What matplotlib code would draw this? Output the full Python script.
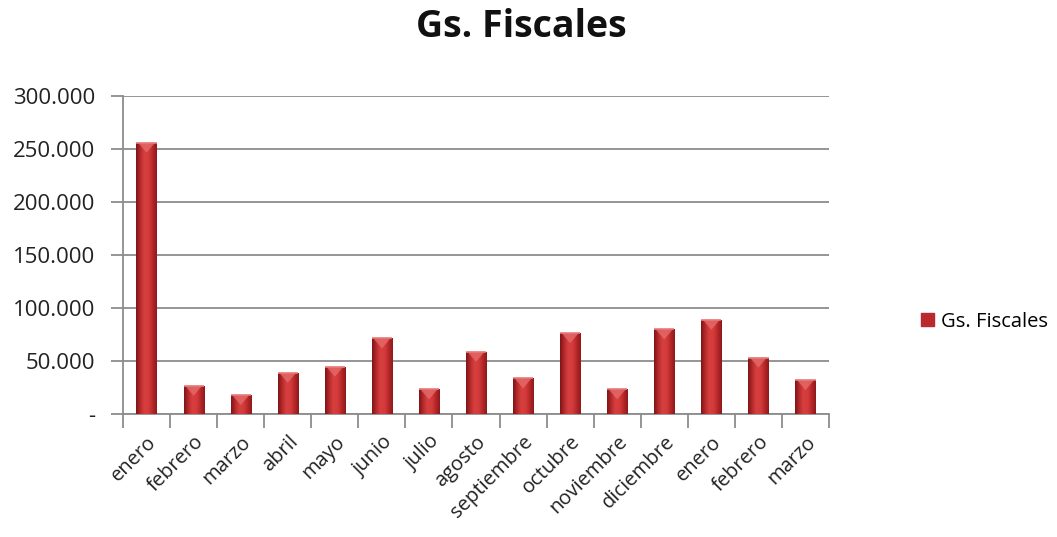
import numpy as np
import matplotlib
matplotlib.use("Agg")
import matplotlib.pyplot as plt
from matplotlib.colors import LinearSegmentedColormap
from matplotlib.patches import Polygon
from matplotlib.ticker import FuncFormatter

months = ["enero", "febrero", "marzo", "abril", "mayo", "junio", "julio",
          "agosto", "septiembre", "octubre", "noviembre", "diciembre",
          "enero", "febrero", "marzo"]
gastos_fiscales = [256000, 26700, 17900, 38900, 44600, 71300, 23200,
                   58700, 33600, 76300, 23200, 79800, 88900, 53300, 32000]
series_name = "Gs. Fiscales"
y_ticks = [0, 50000, 100000, 150000, 200000, 250000, 300000]

plt.rcParams["font.family"] = ["Open Sans", "DejaVu Sans"]

fig = plt.figure(figsize=(10.57, 5.37), dpi=100)
ax = fig.add_axes([0.1164, 0.229, 0.6679, 0.5922])

x = np.arange(len(months))
bar_w = 0.43
bars = ax.bar(x, gastos_fiscales, width=bar_w, color="#C0282B",
              edgecolor="none", zorder=3, label=series_name)

ax.set_xlim(-0.5, len(months) - 0.5)
ax.set_ylim(0, 300000)

# cylinder-like horizontal shading for each bar
shade = LinearSegmentedColormap.from_list(
    "bar_shade",
    ["#7E1416", "#B52A2C", "#D8403F", "#D43C3C", "#B82729", "#8C1A1C"])
grad = np.linspace(0, 1, 64).reshape(1, -1)
fig.canvas.draw()
to_px = ax.transData
to_data = ax.transData.inverted()
for rect in bars:
    x0, w, h = rect.get_x(), rect.get_width(), rect.get_height()
    im = ax.imshow(grad, cmap=shade, aspect="auto",
                   extent=(x0, x0 + w, 0, h), zorder=3.5,
                   interpolation="bicubic")
    im.set_clip_path(rect)
    # bevel highlight at the top of the bar
    px_top = to_px.transform((x0, h))
    bevel = to_data.transform((px_top[0], px_top[1] - 10))[1]
    tri = Polygon([(x0 + w * 0.08, h), (x0 + w * 0.92, h),
                   (x0 + w * 0.5, bevel)], closed=True,
                  facecolor="#E56A6A", edgecolor="none", alpha=0.8,
                  zorder=4)
    ax.add_patch(tri)
    ax.plot([x0, x0 + w], [h, h], color="#E87B7B", lw=1.2, zorder=4.2,
            solid_capstyle="butt")
ax.set_xlim(-0.5, len(months) - 0.5)
ax.set_ylim(0, 300000)

ax.set_yticks(y_ticks)
ax.yaxis.set_major_formatter(FuncFormatter(
    lambda v, p: "-" if v == 0 else f"{int(v):,}".replace(",", ".")))
ax.yaxis.grid(True, color="#8C8C8C", lw=1.3, zorder=0)
ax.set_axisbelow(True)

ax.set_xticks(x)
ax.set_xticklabels(months, rotation=45, ha="right",
                   rotation_mode="anchor")
ax.set_xticks(np.arange(-0.5, len(months), 1), minor=True)
ax.tick_params(axis="x", which="major", length=0, pad=13,
               labelsize=14.5, labelcolor="#222222")
ax.tick_params(axis="x", which="minor", length=10, width=1.3,
               color="#8C8C8C")
ax.tick_params(axis="y", length=9, width=1.3, color="#8C8C8C",
               labelsize=16, labelcolor="#222222", pad=11)

for s in ("top", "right"):
    ax.spines[s].set_visible(False)
for s in ("left", "bottom"):
    ax.spines[s].set_color("#8C8C8C")
    ax.spines[s].set_linewidth(1.3)

fig.text(0.4935, 0.95, series_name, ha="center", va="center",
         fontsize=27, fontweight="bold", color="#111111")

leg = ax.legend(loc="center left", bbox_to_anchor=(1.105, 0.29),
                frameon=False, fontsize=14.5, handlelength=0.65,
                handleheight=0.65, handletextpad=0.35)
for h in leg.legend_handles:
    h.set_color("#B82A2C")

fig.savefig("out.png", dpi=100, facecolor="white")
